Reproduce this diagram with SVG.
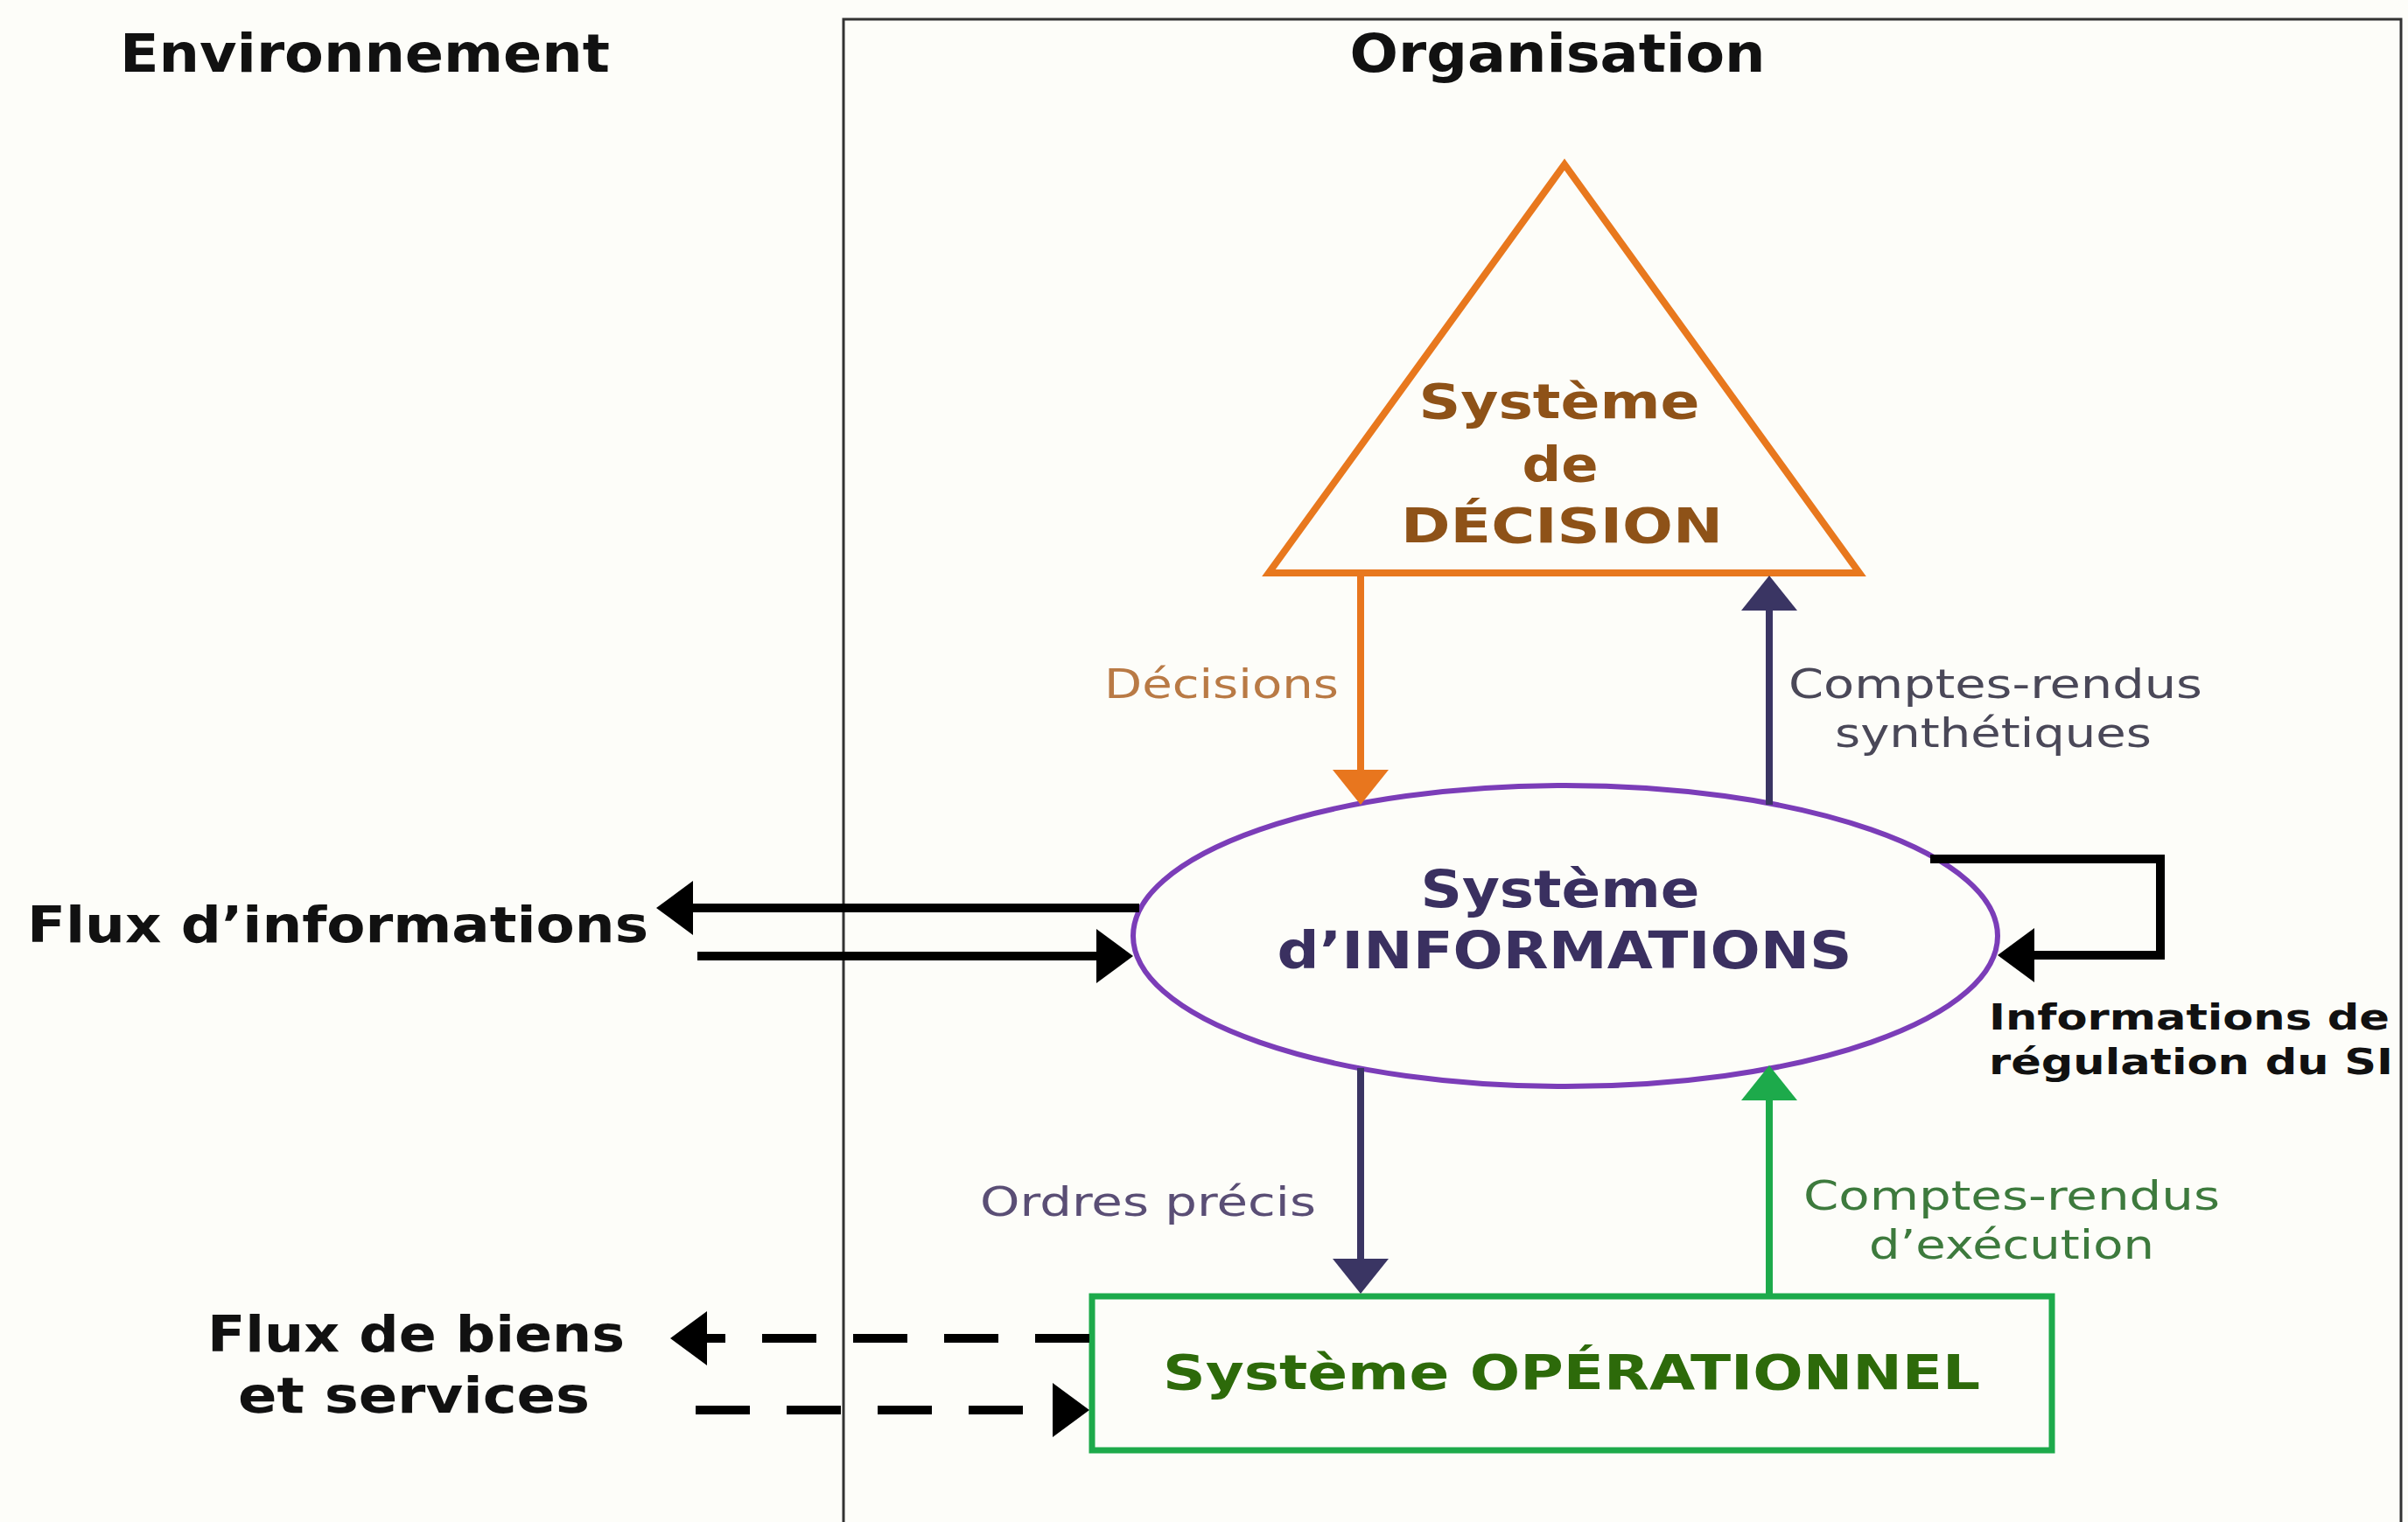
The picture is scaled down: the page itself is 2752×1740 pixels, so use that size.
<svg xmlns="http://www.w3.org/2000/svg" width="2752" height="1740" viewBox="0 0 2752 1740">
<style>
text{font-family:"DejaVu Sans","Verdana","Liberation Sans",sans-serif}
.b{font-weight:bold}
.hdr{font-size:60px;fill:#111;font-weight:bold}
.env{font-size:57px;fill:#111;font-weight:bold}
.lbl{font-size:46px}
.conn{fill:none}
.blk{stroke:#000;stroke-width:10}
.dash{stroke-dasharray:62 42}
</style>
<defs>
<marker id="ahBlack" markerUnits="userSpaceOnUse" viewBox="0 0 42 62" markerWidth="42" markerHeight="62" refX="0" refY="31" orient="auto"><path d="M0,0 L42,31 L0,62 Z" fill="#000"/></marker>
<marker id="ahOrange" markerUnits="userSpaceOnUse" viewBox="0 0 40 64" markerWidth="40" markerHeight="64" refX="0" refY="32" orient="auto"><path d="M0,0 L40,32 L0,64 Z" fill="#E8761E"/></marker>
<marker id="ahNavy" markerUnits="userSpaceOnUse" viewBox="0 0 40 64" markerWidth="40" markerHeight="64" refX="0" refY="32" orient="auto"><path d="M0,0 L40,32 L0,64 Z" fill="#3A3563"/></marker>
<marker id="ahGreen" markerUnits="userSpaceOnUse" viewBox="0 0 40 64" markerWidth="40" markerHeight="64" refX="0" refY="32" orient="auto"><path d="M0,0 L40,32 L0,64 Z" fill="#1DAA4B"/></marker>
</defs>
<rect x="0" y="0" width="2752" height="1740" fill="#FDFDF9"/>

<g id="organisation">
<rect x="964" y="22" width="1780" height="1760" fill="none" stroke="#333" stroke-width="3"/>
<text class="hdr" x="1780" y="82" text-anchor="middle" textLength="475" lengthAdjust="spacingAndGlyphs">Organisation</text>
</g>
<g id="environnement">
<text class="hdr" x="417" y="82" text-anchor="middle" textLength="560" lengthAdjust="spacingAndGlyphs">Environnement</text>
</g>

<g id="systeme-decision">
<polygon points="1788,188 1450,655 2125,655" fill="none" stroke="#E8781E" stroke-width="8"/>
<g class="b" font-size="56" fill="#8E5218" text-anchor="middle">
<text x="1782" y="478" textLength="321" lengthAdjust="spacingAndGlyphs">Système</text>
<text x="1783" y="550" textLength="87" lengthAdjust="spacingAndGlyphs">de</text>
<text x="1785" y="620" textLength="368" lengthAdjust="spacingAndGlyphs">DÉCISION</text>
</g>
</g>

<g id="systeme-informations">
<ellipse cx="1789" cy="1070" rx="494" ry="172" fill="none" stroke="#7B3DB8" stroke-width="6"/>
<g class="b" font-size="58" fill="#3A3060" text-anchor="middle">
<text x="1783" y="1037" textLength="319" lengthAdjust="spacingAndGlyphs">Système</text>
<text x="1788" y="1107" textLength="657" lengthAdjust="spacingAndGlyphs">d’INFORMATIONS</text>
</g>
</g>

<g id="systeme-operationnel">
<rect x="1248" y="1482" width="1097" height="176" fill="none" stroke="#1DAA4B" stroke-width="7"/>
<text class="b" font-size="56" fill="#2D6A0A" x="1796" y="1588" text-anchor="middle" textLength="934" lengthAdjust="spacingAndGlyphs">Système OPÉRATIONNEL</text>
</g>

<g id="label-flux-informations">
<text class="env" x="31" y="1077" textLength="710" lengthAdjust="spacingAndGlyphs">Flux d’informations</text>
</g>
<g id="label-flux-biens">
<text class="env" x="237" y="1545" textLength="477" lengthAdjust="spacingAndGlyphs">Flux de biens</text>
<text class="env" x="272" y="1615" textLength="402" lengthAdjust="spacingAndGlyphs">et services</text>
</g>

<g id="connectors">
<line class="conn" x1="1555" y1="658" x2="1555" y2="880" stroke="#E8761E" stroke-width="8" marker-end="url(#ahOrange)"/>
<line class="conn" x1="2022" y1="920" x2="2022" y2="698" stroke="#3A3563" stroke-width="8" marker-end="url(#ahNavy)"/>
<line class="conn" x1="1555" y1="1221" x2="1555" y2="1439" stroke="#3A3563" stroke-width="8" marker-end="url(#ahNavy)"/>
<line class="conn" x1="2022" y1="1479" x2="2022" y2="1258" stroke="#1DAA4B" stroke-width="8" marker-end="url(#ahGreen)"/>
<line class="conn blk" x1="1302" y1="1038" x2="792" y2="1038" marker-end="url(#ahBlack)"/>
<line class="conn blk" x1="797" y1="1093" x2="1253" y2="1093" marker-end="url(#ahBlack)"/>
<polyline class="conn blk" points="2206,982 2469,982 2469,1092 2325,1092" marker-end="url(#ahBlack)"/>
<line class="conn blk dash" x1="1245" y1="1530" x2="808" y2="1530" marker-end="url(#ahBlack)"/>
<line class="conn blk dash" x1="795" y1="1612" x2="1203" y2="1612" marker-end="url(#ahBlack)"/>
</g>

<g id="connector-labels">
<text class="lbl" fill="#B97A45" x="1262" y="798" textLength="268" lengthAdjust="spacingAndGlyphs">Décisions</text>
<text class="lbl" fill="#4A4858" x="2044" y="798" textLength="473" lengthAdjust="spacingAndGlyphs">Comptes-rendus</text>
<text class="lbl" fill="#4A4858" x="2097" y="854" textLength="362" lengthAdjust="spacingAndGlyphs">synthétiques</text>
<text class="lbl" fill="#5A4E75" x="1120" y="1390" textLength="384" lengthAdjust="spacingAndGlyphs">Ordres précis</text>
<text class="lbl" fill="#3D7A3D" x="2061" y="1383" textLength="476" lengthAdjust="spacingAndGlyphs">Comptes-rendus</text>
<text class="lbl" fill="#3D7A3D" x="2136" y="1439" textLength="326" lengthAdjust="spacingAndGlyphs">d’exécution</text>
<text class="b" font-size="40" fill="#111" x="2273" y="1177" textLength="458" lengthAdjust="spacingAndGlyphs">Informations de</text>
<text class="b" font-size="40" fill="#111" x="2273" y="1228" textLength="462" lengthAdjust="spacingAndGlyphs">régulation du SI</text>
</g>
</svg>
